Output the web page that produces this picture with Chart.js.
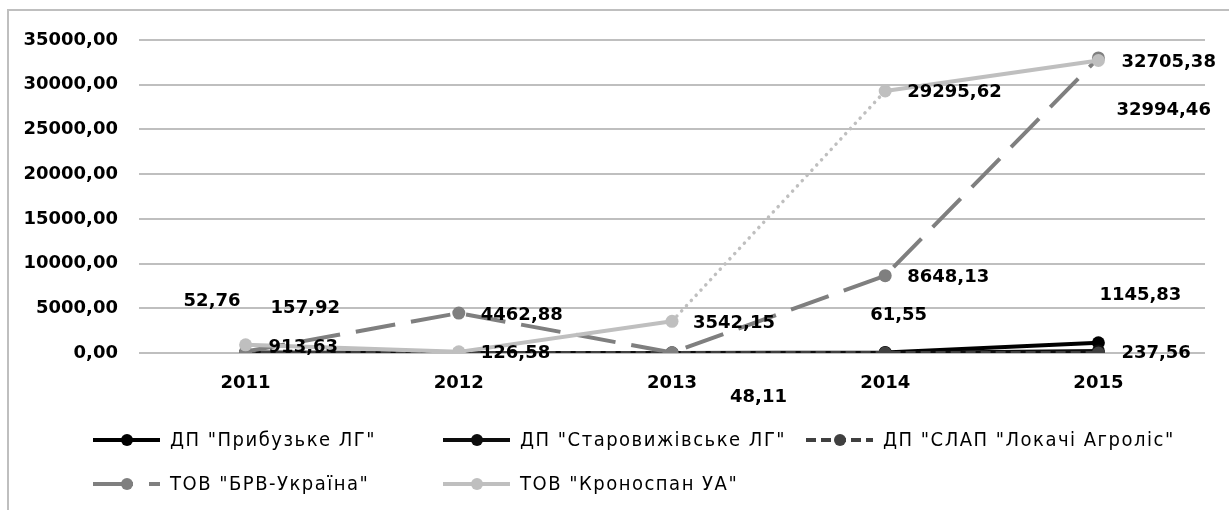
<!DOCTYPE html>
<html>
<head>
<meta charset="utf-8">
<script src="https://cdn.jsdelivr.net/npm/chart.js@4.4.1/dist/chart.umd.min.js"></script>
<style>
  html, body { margin: 0; padding: 0; background: #fff; }
  #wrap { position: relative; width: 1229px; height: 510px; overflow: hidden; }
  #frame { position: absolute; left: 7px; top: 9px; width: 1400px; height: 700px;
           border-left: 2px solid #bfbfbf; border-top: 2px solid #bfbfbf; }
  #chart { position: absolute; left: 0; top: 0; }
</style>
</head>
<body>
<div id="wrap">
  <div id="frame"></div>
  <canvas id="chart" width="1229" height="510"></canvas>
</div>
<script>
// Роки (категорії)
const years = ['2011', '2012', '2013', '2014', '2015'];

// Назви серій
const seriesNames = [
  'ДП "Прибузьке ЛГ"',
  'ДП "Старовижівське ЛГ"',
  'ДП "СЛАП "Локачі Агроліс"',
  'ТОВ "БРВ-Україна"',
  'ТОВ "Кроноспан УА"',
];

// Значення серій
const prybuzke       = [52.76, 0, 0, 61.55, 1145.83];
const starovyzhivske = [0, 0, 0, 0, 237.56];
const slap           = [0, 0, 0, 0, 0];
const brv            = [157.92, 4462.88, 48.11, 8648.13, 32994.46];
const kronospan      = [913.63, 126.58, 3542.15, 29295.62, 32705.38];

// Вісь Y
const yMin = 0, yMax = 35000, yStep = 5000;

// Зміщення підписів даних від точки (ліва межа тексту, центр по вертикалі)
const labelOffsets = [
  [[-62, -51], null, null, [-15, -37], [1, -47]],
  [null, null, null, null, [23, 2]],
  [null, null, null, null, null],
  [[25, -43], [22, 2], [58, 45], [22, 2], [18, 52]],
  [[23, 2], [22, 1], [21, 2], [22, 1], [23, 2]],
];

const fmt = v => v.toFixed(2).replace('.', ',');
const numFont = 'bold 18px "DejaVu Sans"';

// Підписи даних
const dataLabels = {
  id: 'dataLabels',
  afterDatasetsDraw(chart) {
    const ctx = chart.ctx;
    ctx.save();
    ctx.font = numFont;
    ctx.fillStyle = '#000';
    ctx.textAlign = 'left';
    ctx.textBaseline = 'middle';
    chart.data.datasets.forEach((ds, di) => {
      const meta = chart.getDatasetMeta(di);
      meta.data.forEach((pt, i) => {
        const off = labelOffsets[di][i];
        if (!off || !ds.data[i]) return;
        ctx.fillText(fmt(ds.data[i]), pt.x + off[0], pt.y + off[1]);
      });
    });
    ctx.restore();
  }
};

// Легенда у дві колонки, як в оригіналі
const gridLegend = {
  id: 'gridLegend',
  afterDraw(chart) {
    const ctx = chart.ctx;
    const colX = [93, 443, 806];
    const rowY = [440, 484];
    ctx.save();
    chart.data.datasets.forEach((ds, i) => {
      const x = colX[i % 3], y = rowY[Math.floor(i / 3)];
      ctx.strokeStyle = ds.borderColor;
      ctx.lineWidth = ds.borderWidth;
      ctx.lineCap = 'butt';
      ctx.setLineDash(ds.borderDash || []);
      ctx.beginPath();
      ctx.moveTo(x, y);
      ctx.lineTo(x + 67, y);
      ctx.stroke();
      ctx.setLineDash([]);
      ctx.fillStyle = ds.pointBackgroundColor;
      ctx.beginPath();
      ctx.arc(x + 34, y, 6, 0, Math.PI * 2);
      ctx.fill();
      ctx.fillStyle = '#000';
      ctx.font = '20px "DejaVu Sans Condensed"';
      ctx.letterSpacing = '1.5px';
      ctx.textAlign = 'left';
      ctx.textBaseline = 'middle';
      ctx.fillText(ds.label, x + 77, y + 1);
    });
    ctx.restore();
  }
};

const lineBase = { borderWidth: 4, pointRadius: 6.5, pointHoverRadius: 6.5, pointBorderWidth: 0, tension: 0, fill: false };

new Chart(document.getElementById('chart'), {
  type: 'line',
  data: {
    labels: years,
    datasets: [
      { ...lineBase, label: seriesNames[0], data: prybuzke, borderColor: '#000000', pointBackgroundColor: '#000000', order: 5 },
      { ...lineBase, label: seriesNames[1], data: starovyzhivske, borderColor: '#0d0d0d', pointBackgroundColor: '#0d0d0d', order: 4 },
      { ...lineBase, label: seriesNames[2], data: slap, borderColor: '#404040', pointBackgroundColor: '#404040', borderDash: [10, 5], order: 3 },
      { ...lineBase, label: seriesNames[3], data: brv, borderColor: '#7f7f7f', pointBackgroundColor: '#7f7f7f', borderDash: [40, 16], order: 2 },
      { ...lineBase, label: seriesNames[4], data: kronospan, borderColor: '#bfbfbf', pointBackgroundColor: '#bfbfbf', order: 1,
        segment: {
          borderDash: c => c.p0DataIndex === 2 ? [0.1, 7] : undefined,
          borderCapStyle: c => c.p0DataIndex === 2 ? 'round' : undefined,
          borderWidth: c => c.p0DataIndex === 2 ? 3.5 : undefined,
        } },
    ],
  },
  options: {
    responsive: false,
    animation: false,
    layout: { padding: { left: 0, top: 40, right: 24, bottom: 0 } },
    plugins: { legend: { display: false }, tooltip: { enabled: false } },
    scales: {
      x: {
        offset: true,
        grid: { display: false, drawTicks: false },
        border: { display: false },
        ticks: { color: '#000', font: { family: 'DejaVu Sans', size: 18, weight: 'bold' }, padding: 20, maxRotation: 0 },
        afterFit: s => { s.height = 157; },
      },
      y: {
        min: yMin, max: yMax,
        grid: { color: '#bfbfbf', lineWidth: 2, drawTicks: false },
        border: { display: false },
        ticks: { stepSize: yStep, color: '#000', font: { family: 'DejaVu Sans', size: 18, weight: 'bold' }, padding: 21,
                 callback: v => fmt(v) },
        afterFit: s => { s.width = 139; },
      },
    },
  },
  plugins: [dataLabels, gridLegend],
});
</script>
</body>
</html>
